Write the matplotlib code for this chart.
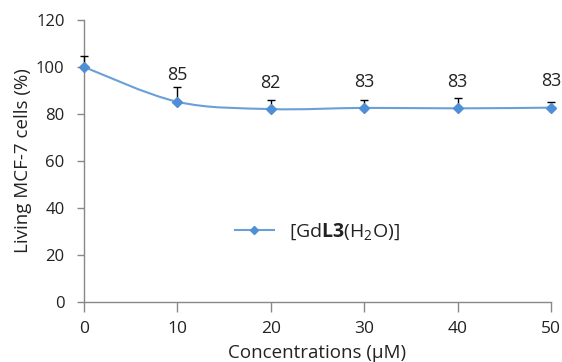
import numpy as np
import matplotlib
matplotlib.use("Agg")
import matplotlib.pyplot as plt
from matplotlib.path import Path
from matplotlib.patches import PathPatch

conc = [0, 10, 20, 30, 40, 50]
living = [100, 85.2, 82.1, 82.6, 82.4, 82.7]
err_up = [4.5, 6.4, 3.8, 3.4, 4.3, 2.6]
labels = ["", "85", "82", "83", "83", "83"]
series_name = r"[Gd$\mathbf{L3}$(H$_2$O)]"
yticks = [0, 20, 40, 60, 80, 100, 120]
xticks = [0, 10, 20, 30, 40, 50]

plt.rcParams['font.family'] = ['Open Sans', 'DejaVu Sans']
plt.rcParams['mathtext.fontset'] = 'custom'
plt.rcParams['mathtext.rm'] = 'Open Sans'
plt.rcParams['mathtext.bf'] = 'Open Sans:bold'
plt.rcParams['mathtext.it'] = 'Open Sans:italic'

line_c = '#6A9FD8'
mark_c = '#4F8FD6'
axis_c = '#888888'
text_c = '#222222'

fig = plt.figure(figsize=(5.62, 3.62), dpi=100)
ax = fig.add_axes([84/562, 1-302/362, (551-84)/562, (302-20)/362])

# Excel-like smoothed line (cubic Bezier through the data points)
x = np.array(conc, float); y = np.array(living, float)
verts = [(x[0], y[0])]; codes = [Path.MOVETO]
t = 1/6
n = len(x)
for i in range(n-1):
    p0 = np.array([x[max(i-1, 0)], y[max(i-1, 0)]])
    p1 = np.array([x[i], y[i]])
    p2 = np.array([x[i+1], y[i+1]])
    p3 = np.array([x[min(i+2, n-1)], y[min(i+2, n-1)]])
    c1 = p1 + (p2 - p0) * t
    c2 = p2 - (p3 - p1) * t
    verts += [tuple(c1), tuple(c2), tuple(p2)]
    codes += [Path.CURVE4]*3
ax.add_patch(PathPatch(Path(verts, codes), fill=False, edgecolor=line_c, lw=1.5, zorder=2))

ax.errorbar(conc, living, yerr=[np.zeros(n), err_up], fmt='none',
            ecolor='black', elinewidth=1.0, capsize=3, capthick=1.0, zorder=3, clip_on=False)
ax.plot(conc, living, linestyle='none', marker='D', markersize=5, color=mark_c, zorder=4, clip_on=False)
ax.plot([], [], color=line_c, lw=1.5, marker='D', markersize=4, markerfacecolor=mark_c,
        markeredgecolor=mark_c, label=series_name)

for xi, yi, lab in zip(conc, living, labels):
    if lab:
        ax.annotate(lab, (xi, yi), xytext=(0, 19), textcoords='offset points',
                    ha='center', va='center', fontsize=13, color=text_c)

ax.set_xlim(0, 50)
ax.set_ylim(0, 120)
ax.set_xticks(xticks)
ax.set_yticks(yticks)
for s in ['top', 'right']:
    ax.spines[s].set_visible(False)
for s in ['left', 'bottom']:
    ax.spines[s].set_color(axis_c)
    ax.spines[s].set_linewidth(1.0)
ax.tick_params(axis='both', colors=axis_c, labelcolor=text_c, width=1.0)
ax.tick_params(axis='y', length=5, pad=9, labelsize=12)
ax.tick_params(axis='x', length=7, pad=7, labelsize=12.5)
ax.set_xlabel('Concentrations (µM)', fontsize=13.5, color=text_c, labelpad=5)
ax.set_ylabel('Living MCF-7 cells (%)', fontsize=13.5, color=text_c, labelpad=3)

leg = ax.legend(loc='center left', bbox_to_anchor=((235-84)/467, (302-232)/282), frameon=False,
                fontsize=14, handlelength=2.0, handletextpad=0.8, borderpad=0, borderaxespad=0)
for tx in leg.get_texts():
    tx.set_color(text_c)

fig.savefig('out.png', dpi=100)
